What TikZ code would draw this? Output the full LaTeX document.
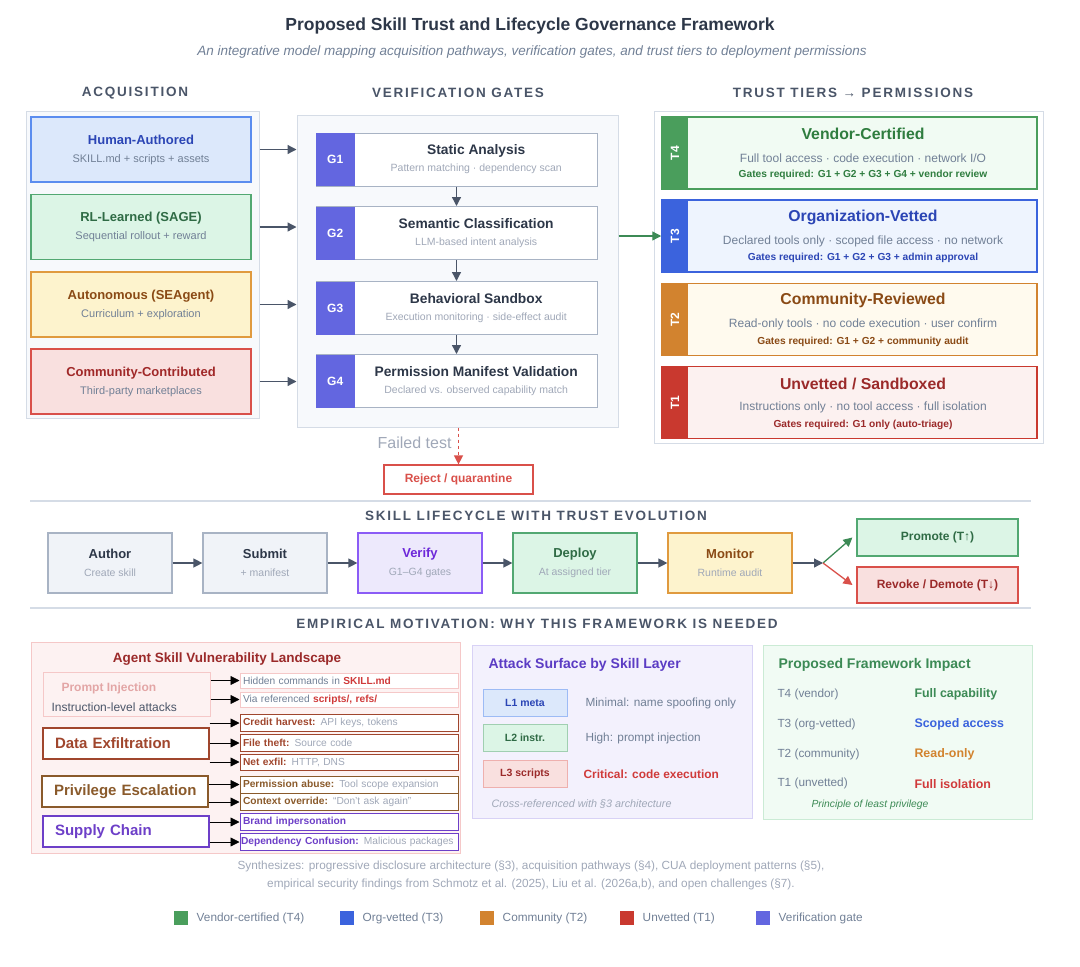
\documentclass[tikz,border=0pt]{standalone}
\usepackage{fontspec}
\setmainfont{Liberation Sans}
\usetikzlibrary{arrows.meta,calc,positioning}

% palette
\definecolor{ink}{HTML}{2D3748}
\definecolor{slate}{HTML}{4A5568}
\definecolor{mute}{HTML}{718096}
\definecolor{faint}{HTML}{A0A8B8}
\definecolor{frame}{HTML}{D5DCE6}
\definecolor{panelbg}{HTML}{F7F9FC}
\definecolor{gatev}{HTML}{6366E0}
\definecolor{gateedge}{HTML}{A8B3C4}
\definecolor{tfourc}{HTML}{4A9E5C}
\definecolor{tfourbg}{HTML}{F1FBF3}
\definecolor{tfourtx}{HTML}{2F7D3F}
\definecolor{tthreec}{HTML}{3B63DD}
\definecolor{tthreebg}{HTML}{EEF4FE}
\definecolor{tthreetx}{HTML}{2B45B5}
\definecolor{ttwoc}{HTML}{D2832F}
\definecolor{ttwobg}{HTML}{FFFAEE}
\definecolor{ttwotx}{HTML}{8A4A15}
\definecolor{tonec}{HTML}{C9392F}
\definecolor{tonebg}{HTML}{FCF1F0}
\definecolor{tonetx}{HTML}{9B2A2A}
\definecolor{hblue}{HTML}{5B8DEF}
\definecolor{hbluebg}{HTML}{DCE8FB}
\definecolor{rlgreen}{HTML}{52A872}
\definecolor{rlgreenbg}{HTML}{DCF5E6}
\definecolor{rlgreentx}{HTML}{2F6B45}
\definecolor{autoor}{HTML}{E09A3E}
\definecolor{autoorbg}{HTML}{FDF3CD}
\definecolor{comred}{HTML}{D9504A}
\definecolor{comredbg}{HTML}{F9E0DF}
\definecolor{comredtx}{HTML}{A02828}
\definecolor{verv}{HTML}{8B5CF6}
\definecolor{vervbg}{HTML}{EDE9FC}
\definecolor{vervtx}{HTML}{6D28D9}
\definecolor{lifebg}{HTML}{F0F3F8}
\definecolor{vulnbg}{HTML}{FDF2F2}
\definecolor{vulnedge}{HTML}{F5C8C8}
\definecolor{pitx}{HTML}{E3A6A6}
\definecolor{exfil}{HTML}{A0462D}
\definecolor{priv}{HTML}{8A5A2B}
\definecolor{supply}{HTML}{6D3FC8}
\definecolor{hot}{HTML}{D03A3A}
\definecolor{atkbg}{HTML}{F3F1FD}
\definecolor{atkedge}{HTML}{D8D2F6}
\definecolor{atktx}{HTML}{5B3CC4}
\definecolor{impbg}{HTML}{F1FBF4}
\definecolor{impedge}{HTML}{CBEBD5}
\definecolor{imptx}{HTML}{3C8A55}

\newcommand\hdr[1]{{\fontsize{13.5}{16}\selectfont\bfseries\addfontfeature{LetterSpace=13}#1}}
\newcommand\subln[1]{{\fontsize{11}{13}\selectfont\mdseries\color{mute}#1}}
\newcommand\smallsub[1]{{\fontsize{10.5}{12}\selectfont\mdseries\color{faint}#1}}

\begin{document}
\begin{tikzpicture}[x=1pt,y=-1pt,>={Triangle[length=9pt,width=9pt]},
  panel/.style={draw=frame,fill=panelbg,line width=1pt},
  acqbox/.style 2 args={draw=#1,fill=#2,line width=1.3pt,minimum width=220,minimum height=65,
    align=center,font=\fontsize{13}{15}\selectfont\bfseries},
  gatebox/.style={draw=gateedge,fill=white,line width=1pt,minimum width=281,minimum height=53},
  gatetab/.style={fill=gatev,text=white,font=\fontsize{12}{14}\selectfont\bfseries,
    minimum width=39,minimum height=53,anchor=west,inner sep=0pt},
  gatetxt/.style={align=center,text=ink,font=\fontsize{13.8}{15}\selectfont\bfseries},
  tierbox/.style 2 args={draw=#1,fill=#2,line width=1.5pt,minimum width=375,minimum height=72},
  tiertab/.style={fill=#1,text=white,font=\fontsize{12}{14}\selectfont\bfseries,
    minimum width=27,minimum height=72,anchor=west,inner sep=0pt},
  tiertitle/.style={text=#1,font=\fontsize{15.8}{18}\selectfont\bfseries},
  tierdesc/.style={text=mute,font=\fontsize{12}{14}\selectfont},
  tiergate/.style={text=#1,font=\fontsize{10.2}{12}\selectfont\bfseries},
  lifebox/.style 2 args={draw=#1,fill=#2,line width=1.2pt,minimum width=124,minimum height=60,
    align=center,font=\fontsize{13}{15}\selectfont\bfseries},
  flow/.style={->,draw=slate,line width=1.3pt},
  issue/.style={draw=#1,line width=1.2pt,fill=white,minimum width=166,minimum height=31,
    text width=150,inner xsep=8,align=left,text=#1,font=\fontsize{15}{17}\selectfont\bfseries},
  item/.style={draw=#1,line width=1pt,fill=white,minimum width=218,minimum height=17,inner ysep=0pt,
    inner xsep=3pt,text width=212,align=left,font=\fontsize{10.2}{11}\selectfont,text=faint},
  layer/.style n args={3}{draw=#1,fill=#2,text=#3,line width=0.8pt,minimum width=84,minimum height=27,
    font=\fontsize{10.5}{12}\selectfont\bfseries},
  leg/.style={fill=#1,minimum size=14,inner sep=0pt},
  legtxt/.style={anchor=west,text=mute,font=\fontsize{11.8}{13}\selectfont}
]
\useasboundingbox (0,0) rectangle (1080,967);

% Titles
\node[text=ink,font=\fontsize{17.5}{20}\selectfont\bfseries] (title) at (530,26)
  {Proposed Skill Trust and Lifecycle Governance Framework};
\node[text=mute,font=\fontsize{13.5}{16}\selectfont\itshape] (subtitle) at (532,52)
  {An integrative model mapping acquisition pathways, verification gates, and trust tiers to deployment permissions};
\node[text=slate] (hacq) at (135,93) {\hdr{ACQUISITION}};
\node[text=slate] (hgate) at (458,93) {\hdr{VERIFICATION GATES}};
\node[text=slate] (htier) at (853,93) {\hdr{TRUST TIERS → PERMISSIONS}};

% Acquisition pathways
\node[panel,minimum width=233,minimum height=307] (acqpanel) at (142.5,264.5) {};
\node[acqbox={hblue}{hbluebg},text=tthreetx] (human) at (141,149.5)
  {Human-Authored\\[3pt]\subln{SKILL.md + scripts + assets}};
\node[acqbox={rlgreen}{rlgreenbg},text=rlgreentx] (rl) at (141,227)
  {RL-Learned (SAGE)\\[3pt]\subln{Sequential rollout + reward}};
\node[acqbox={autoor}{autoorbg},text=ttwotx] (auto) at (141,304.5)
  {Autonomous (SEAgent)\\[3pt]\subln{Curriculum + exploration}};
\node[acqbox={comred}{comredbg},text=comredtx] (community) at (141,381.5)
  {Community-Contributed\\[3pt]\subln{Third-party marketplaces}};

% Verification gates
\node[panel,minimum width=321,minimum height=312] (gatepanel) at (457.5,271) {};
\node[gatebox] (g1) at (456.5,159.5) {};
\node[gatebox] (g2) at (456.5,233) {};
\node[gatebox] (g3) at (456.5,308) {};
\node[gatebox] (g4) at (456.5,381) {};
\node[gatetab] (g1tab) at (g1.west) {G1};
\node[gatetab] (g2tab) at (g2.west) {G2};
\node[gatetab] (g3tab) at (g3.west) {G3};
\node[gatetab] (g4tab) at (g4.west) {G4};
\node[gatetxt] (g1txt) at ($(g1tab.east)!0.5!(g1.east)$)
  {Static Analysis\\[2pt]\smallsub{Pattern matching · dependency scan}};
\node[gatetxt] (g2txt) at ($(g2tab.east)!0.5!(g2.east)$)
  {Semantic Classification\\[2pt]\smallsub{LLM-based intent analysis}};
\node[gatetxt] (g3txt) at ($(g3tab.east)!0.5!(g3.east)$)
  {Behavioral Sandbox\\[2pt]\smallsub{Execution monitoring · side-effect audit}};
\node[gatetxt] (g4txt) at ($(g4tab.east)!0.5!(g4.east)$)
  {Permission Manifest Validation\\[2pt]\smallsub{Declared vs. observed capability match}};
\draw[flow] (g1) -- (g2);
\draw[flow] (g2) -- (g3);
\draw[flow] (g3) -- (g4);

% into the gates
\draw[flow] (human.east -| acqpanel.east) -- (human.east -| gatepanel.west);
\draw[flow] (rl.east -| acqpanel.east) -- (rl.east -| gatepanel.west);
\draw[flow] (auto.east -| acqpanel.east) -- (auto.east -| gatepanel.west);
\draw[flow] (community.east -| acqpanel.east) -- (community.east -| gatepanel.west);

% Failed test
\node[draw=comred,line width=1.2pt,fill=white,text=comred,minimum width=149,minimum height=29,
  font=\fontsize{12}{14}\selectfont\bfseries] (reject) at (458.5,479.5) {Reject / quarantine};
\draw[->,draw=comred,line width=1.3pt,dashed] (gatepanel.south -| reject.north) -- (reject.north);
\node[text=faint,font=\fontsize{16}{18}\selectfont,anchor=east] (failed) at (455,443) {Failed test};

% Trust tiers
\node[draw=frame,fill=white,line width=1pt,minimum width=389,minimum height=332] (tierpanel) at (848.5,277) {};
\node[tierbox={tfourc}{tfourbg}] (t4) at (849.5,153) {};
\node[tierbox={tthreec}{tthreebg}] (t3) at (849.5,236) {};
\node[tierbox={ttwoc}{ttwobg}] (t2) at (849.5,319.5) {};
\node[tierbox={tonec}{tonebg}] (t1) at (849.5,402.5) {};
\node[tiertab=tfourc] (t4tab) at (t4.west) {\rotatebox{90}{T4}};
\node[tiertab=tthreec] (t3tab) at (t3.west) {\rotatebox{90}{T3}};
\node[tiertab=ttwoc] (t2tab) at (t2.west) {\rotatebox{90}{T2}};
\node[tiertab=tonec] (t1tab) at (t1.west) {\rotatebox{90}{T1}};
\node[tiertitle=tfourtx] (t4name) at ($(t4.north)+(13.5,18)$) {Vendor-Certified};
\node[tierdesc] (t4desc) at ($(t4.north)+(13.5,42)$) {Full tool access · code execution · network I/O};
\node[tiergate=tfourtx] (t4gate) at ($(t4.north)+(13.5,59)$) {Gates required: G1 + G2 + G3 + G4 + vendor review};
\node[tiertitle=tthreetx] (t3name) at ($(t3.north)+(13.5,18)$) {Organization-Vetted};
\node[tierdesc] (t3desc) at ($(t3.north)+(13.5,42)$) {Declared tools only · scoped file access · no network};
\node[tiergate=tthreetx] (t3gate) at ($(t3.north)+(13.5,59)$) {Gates required: G1 + G2 + G3 + admin approval};
\node[tiertitle=ttwotx] (t2name) at ($(t2.north)+(13.5,18)$) {Community-Reviewed};
\node[tierdesc] (t2desc) at ($(t2.north)+(13.5,42)$) {Read-only tools · no code execution · user confirm};
\node[tiergate=ttwotx] (t2gate) at ($(t2.north)+(13.5,59)$) {Gates required: G1 + G2 + community audit};
\node[tiertitle=tonetx] (t1name) at ($(t1.north)+(13.5,18)$) {Unvetted / Sandboxed};
\node[tierdesc] (t1desc) at ($(t1.north)+(13.5,42)$) {Instructions only · no tool access · full isolation};
\node[tiergate=tonetx] (t1gate) at ($(t1.north)+(13.5,59)$) {Gates required: G1 only (auto-triage)};
\draw[->,draw=imptx,line width=1.3pt] (gatepanel.east |- t3tab.west) -- (t3tab.west);

% Lifecycle
\draw[frame,line width=1.2pt] (30,501) -- (1031,501);
\draw[frame,line width=1.2pt] (30,608) -- (1031,608);
\node[text=slate] (hlife) at (536,516) {\hdr{SKILL LIFECYCLE WITH TRUST EVOLUTION}};
\node[lifebox={gateedge}{lifebg},text=ink] (author) at (110,563)
  {Author\\[3pt]\smallsub{Create skill}};
\node[lifebox={gateedge}{lifebg},text=ink] (submit) at (265,563)
  {Submit\\[3pt]\smallsub{+ manifest}};
\node[lifebox={verv}{vervbg},text=vervtx] (verify) at (420,563)
  {Verify\\[3pt]\smallsub{G1–G4 gates}};
\node[lifebox={rlgreen}{rlgreenbg},text=rlgreentx] (deploy) at (575,563)
  {Deploy\\[3pt]\smallsub{At assigned tier}};
\node[lifebox={autoor}{autoorbg},text=ttwotx] (monitor) at (730,563)
  {Monitor\\[3pt]\smallsub{Runtime audit}};
\node[draw=rlgreen,fill=rlgreenbg,line width=1.2pt,minimum width=161,minimum height=37,text=rlgreentx,
  font=\fontsize{12}{14}\selectfont\bfseries] (promote) at (937.5,537.5) {Promote (T↑)};
\node[draw=comred,fill=comredbg,line width=1.2pt,minimum width=161,minimum height=36,text=tonetx,
  font=\fontsize{12}{14}\selectfont\bfseries] (revoke) at (937.5,585) {Revoke / Demote (T↓)};
\coordinate (fork) at (823,563);
\draw[flow] (author) -- (submit);
\draw[flow] (submit) -- (verify);
\draw[flow] (verify) -- (deploy);
\draw[flow] (deploy) -- (monitor);
\draw[flow] (monitor) -- (fork);
\draw[->,draw=imptx,line width=1.3pt] (fork) -- ($(promote.west)+(-4,0)$);
\draw[->,draw=comred,line width=1.3pt] (fork) -- ($(revoke.west)+(-4,0)$);

% Empirical motivation
\node[text=slate] (hemp) at (537,624) {\hdr{EMPIRICAL MOTIVATION: WHY THIS FRAMEWORK IS NEEDED}};

% vulnerability landscape
\node[draw=vulnedge,fill=vulnbg,line width=1pt,minimum width=429,minimum height=211] (vulnpanel) at (245.5,747.5) {};
\node[text=tonetx,font=\fontsize{13.5}{15}\selectfont\bfseries] (vulntitle) at (227,659) {Agent Skill Vulnerability Landscape};
\node[draw=vulnedge,fill=vulnbg,line width=1pt,minimum width=167,minimum height=44] (pi) at (126.5,694) {};
\node[anchor=west,text=pitx,font=\fontsize{12}{14}\selectfont\bfseries] (pititle) at (58,688) {Prompt Injection};
\node[anchor=west,text=slate,font=\fontsize{12}{14}\selectfont] (pisub) at (48,707) {Instruction-level attacks};
\node[issue=exfil] (de) at (126,743.5) {\hspace{4pt}Data Exfiltration};
\node[issue=priv] (pe) at (125,791.5) {\hspace{4pt}Privilege Escalation};
\node[issue=supply] (sc) at (126,831.5) {\hspace{4pt}Supply Chain};
\node[item=vulnedge,minimum height=15] (hc) at (349,680.5) {\color{mute}Hidden commands in \textcolor{hot}{\bfseries SKILL.md}};
\node[item=vulnedge,minimum height=15] (vr) at (349,699.5) {\color{mute}Via referenced \textcolor{hot}{\bfseries scripts/, refs/}};
\node[item=exfil] (ch) at (349,723) {\textcolor{exfil}{\bfseries Credit harvest:} API keys, tokens};
\node[item=exfil] (ft) at (349,743) {\textcolor{exfil}{\bfseries File theft:} Source code};
\node[item=exfil,minimum height=16] (ne) at (349,762) {\textcolor{exfil}{\bfseries Net exfil:} HTTP, DNS};
\node[item=priv] (pa) at (349,784.5) {\textcolor{priv}{\bfseries Permission abuse:} Tool scope expansion};
\node[item=priv] (co) at (349,802) {\textcolor{priv}{\bfseries Context override:} ``Don't ask again''};
\node[item=supply] (bi) at (349,822) {\textcolor{supply}{\bfseries Brand impersonation}};
\node[item=supply,inner xsep=1pt,text width=216] (dc) at (349,842) {\textcolor{supply}{\bfseries Dependency Confusion:} Malicious packages};
\draw[->,thick] (pi.east |- hc.west) -- (hc.west);
\draw[->,thick] (pi.east |- vr.west) -- (vr.west);
\draw[->,thick] (de.east |- ch.west) -- (ch.west);
\draw[->,thick] (de.east |- ft.west) -- (ft.west);
\draw[->,thick] (de.east |- ne.west) -- (ne.west);
\draw[->,thick] (pe.east |- pa.west) -- (pa.west);
\draw[->,thick] (pe.east |- co.west) -- (co.west);
\draw[->,thick] (sc.east |- bi.west) -- (bi.west);
\draw[->,thick] (sc.east |- dc.west) -- (dc.west);

% attack surface
\node[draw=atkedge,fill=atkbg,line width=1pt,minimum width=280,minimum height=173] (atkpanel) at (612,731.5) {};
\node[anchor=west,text=atktx,font=\fontsize{14}{16}\selectfont\bfseries] (atktitle) at (485,665) {Attack Surface by Skill Layer};
\node[layer={hblue!60}{hbluebg}{tthreetx}] (l1) at (525,702.5) {L1 meta};
\node[layer={rlgreen!55}{rlgreenbg}{rlgreentx}] (l2) at (525,738) {L2 instr.};
\node[layer={comred!45}{comredbg}{tonetx}] (l3) at (525,773.5) {L3 scripts};
\node[anchor=west,text=mute,font=\fontsize{11.8}{13}\selectfont] (l1txt) at (582,703) {Minimal: name spoofing only};
\node[anchor=west,text=mute,font=\fontsize{11.8}{13}\selectfont] (l2txt) at (582,738) {High: prompt injection};
\node[anchor=west,text=hot,font=\fontsize{11.9}{13}\selectfont\bfseries] (l3txt) at (580,774) {Critical: code execution};
\node[anchor=west,text=faint,font=\fontsize{10.8}{12}\selectfont\itshape] (xref) at (488,804) {Cross-referenced with §3 architecture};

% framework impact
\node[draw=impedge,fill=impbg,line width=1pt,minimum width=269,minimum height=174] (imppanel) at (897.5,732) {};
\node[anchor=west,text=imptx,font=\fontsize{14}{16}\selectfont\bfseries] (imptitle) at (775,665) {Proposed Framework Impact};
\foreach \tier/\eff/\col [count=\i] in {T4 (vendor)/Full capability/imptx,T3 (org-vetted)/Scoped access/tthreec,
    T2 (community)/Read-only/ttwoc,T1 (unvetted)/Full isolation/hot}{
  \node[anchor=west,text=mute,font=\fontsize{11.8}{13}\selectfont] (imp\i) at (774,665+\i*29.7) {\tier};
  \node[anchor=west,text=\col,font=\fontsize{12.4}{14}\selectfont\bfseries] (eff\i) at (911,665+\i*29.7) {\eff};
}
\node[text=imptx,font=\fontsize{10.3}{12}\selectfont\itshape] (least) at (870,805) {Principle of least privilege};

% footer
\node[text=faint,align=center,font=\fontsize{11.8}{18}\selectfont] (synth) at (531,875)
  {Synthesizes: progressive disclosure architecture (§3), acquisition pathways (§4), CUA deployment patterns (§5),\\
   empirical security findings from Schmotz et al. (2025), Liu et al. (2026a,b), and open challenges (§7).};

% legend
\node[leg=tfourc] (k4) at (181,918) {};
\node[legtxt] (k4txt) at ($(k4.east)+(5,0)$) {Vendor-certified (T4)};
\node[leg=tthreec] (k3) at (347,918) {};
\node[legtxt] (k3txt) at ($(k3.east)+(5,0)$) {Org-vetted (T3)};
\node[leg=ttwoc] (k2) at (487,918) {};
\node[legtxt] (k2txt) at ($(k2.east)+(5,0)$) {Community (T2)};
\node[leg=tonec] (k1) at (627,918) {};
\node[legtxt] (k1txt) at ($(k1.east)+(5,0)$) {Unvetted (T1)};
\node[leg=gatev] (kg) at (763,918) {};
\node[legtxt] (kgtxt) at ($(kg.east)+(5,0)$) {Verification gate};
\end{tikzpicture}
\end{document}
